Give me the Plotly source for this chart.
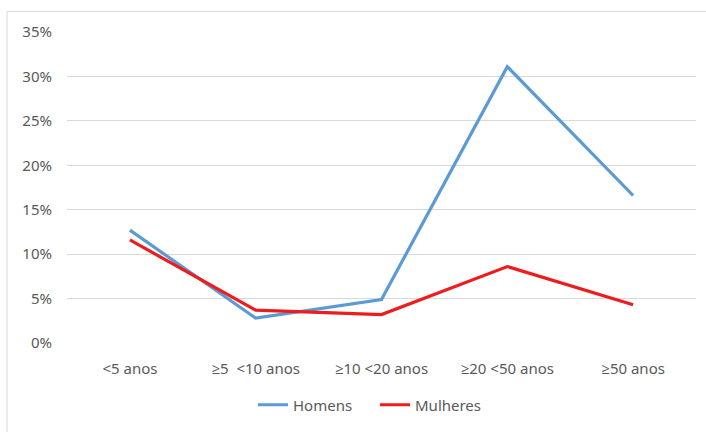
import plotly.graph_objects as go

categories = ["<5 anos", "≥5  <10 anos", "≥10 <20 anos", "≥20 <50 anos", "≥50 anos"]
homens = [0.127, 0.028, 0.049, 0.311, 0.166]
mulheres = [0.116, 0.037, 0.032, 0.086, 0.043]
y_ticks = [0, 0.05, 0.10, 0.15, 0.20, 0.25, 0.30, 0.35]

W, H = 706, 432
margin = dict(l=67, r=10, t=32, b=84)
pw = W - margin["l"] - margin["r"]
ph = H - margin["t"] - margin["b"]

fig = go.Figure()
fig.add_trace(go.Scatter(x=list(range(len(categories))), y=homens, name="Homens",
                         mode="lines", line=dict(color="#5B9BD5", width=3.2)))
fig.add_trace(go.Scatter(x=list(range(len(categories))), y=mulheres, name="Mulheres",
                         mode="lines", line=dict(color="#EE1D1D", width=3.2)))

# outer chart frame (left and top edges visible)
def px_x(v):
    return (v - margin["l"]) / pw

def px_y(v):
    return (H - margin["b"] - v) / ph

fig.add_shape(type="rect", xref="paper", yref="paper",
              x0=px_x(7), x1=px_x(720), y0=px_y(11), y1=px_y(450),
              line=dict(color="#D9D9D9", width=1), layer="below")

font = dict(family="Noto Sans, Open Sans, sans-serif", size=15, color="#595959")

fig.update_layout(
    width=W, height=H, margin=margin,
    paper_bgcolor="white", plot_bgcolor="white",
    font=font,
    showlegend=True,
    legend=dict(orientation="h", x=px_x(375), xanchor="center",
                y=px_y(411), yanchor="middle", font=font,
                itemwidth=30, entrywidth=77, entrywidthmode="pixels",
                bgcolor="rgba(0,0,0,0)"),
    xaxis=dict(tickmode="array", tickvals=list(range(len(categories))),
               ticktext=categories, range=[-0.5, len(categories) - 0.5],
               showgrid=False, zeroline=False, showline=False, ticks="",
               ticklabelstandoff=15, tickfont=font),
    yaxis=dict(tickmode="array", tickvals=y_ticks,
               ticktext=[f"{round(v*100)}%" for v in y_ticks],
               range=[0, 0.35], showgrid=True, gridcolor="#D9D9D9", gridwidth=1,
               zeroline=False, showline=False, ticks="",
               ticklabelstandoff=14, tickfont=font),
)

fig.write_html("out.html")
